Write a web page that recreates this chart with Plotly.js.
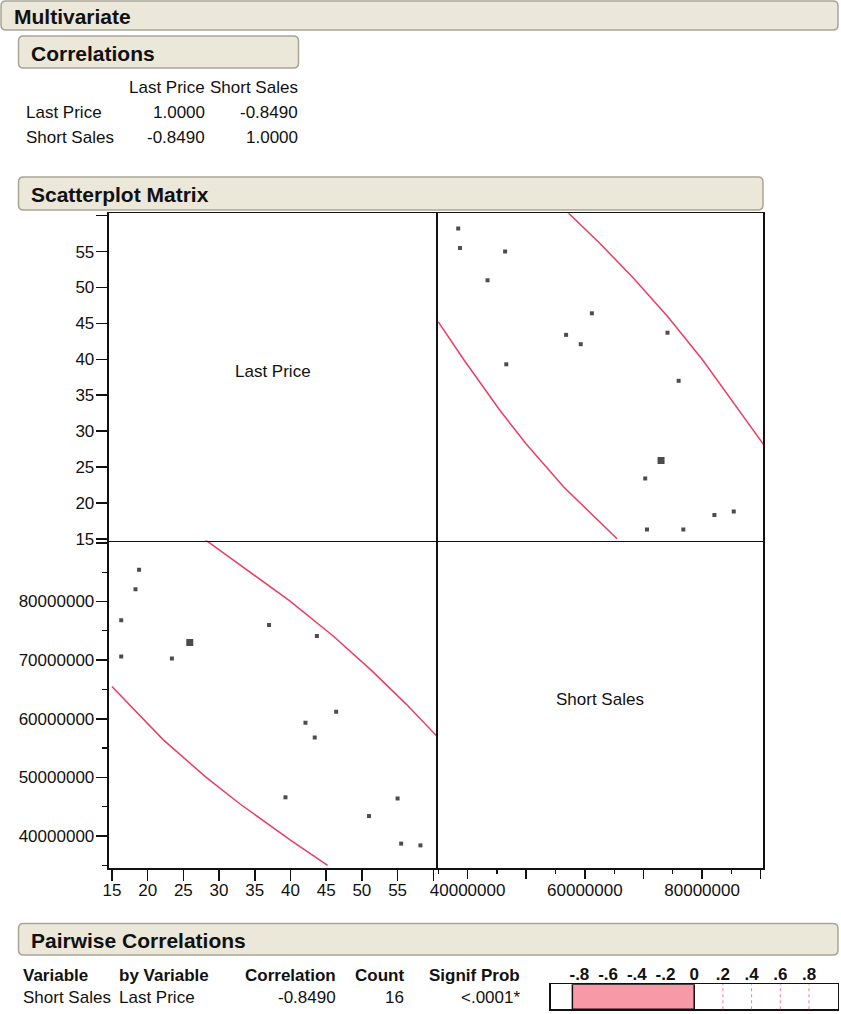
<!DOCTYPE html>
<html>
<head>
<meta charset="utf-8">
<script src="https://cdn.plot.ly/plotly-3.0.1.min.js"></script>
<style>
  html, body { margin: 0; padding: 0; background: #ffffff; }
  #chart { width: 841px; height: 1014px; }
</style>
</head>
<body>
<div id="chart"></div>
<script>
// ---------------- DATA ----------------
const variables = ['Last Price', 'Short Sales'];
const corrLastPrice = [1.0000, -0.8490];
const corrShortSales = [-0.8490, 1.0000];

const lastPrice = [18.8, 18.3, 16.3, 16.3, 23.4, 25.9, 37.0, 43.7, 46.4, 42.1, 43.4, 39.3, 51.0, 55.0, 55.5, 58.2];
const shortSales = [85400000, 82100000, 76800000, 70600000, 70300000, 73000000, 76000000, 74100000,
                    61200000, 59300000, 56800000, 46600000, 43400000, 46400000, 38700000, 38400000];
const highlightedRow = 5;

// 95% density ellipse, visible parts (Last Price, Short Sales)
const ellipseUpperLP = [28.0, 39.9, 45.9, 51.3, 56.2, 60.0, 60.6];
const ellipseUpperSS = [90600000, 80100000, 74200000, 68300000, 62500000, 57600000, 56900000];
const ellipseLowerLP = [15.0, 17.8, 22.2, 28.2, 32.9, 40.0, 45.2];
const ellipseLowerSS = [65500000, 61900000, 56400000, 50000000, 45500000, 39300000, 35000000];

const lpTickVals = [15, 20, 25, 30, 35, 40, 45, 50, 55, 60];
const lpTickText = ['15', '20', '25', '30', '35', '40', '45', '50', '55', ''];
const ssTickVals = [40000000, 50000000, 60000000, 70000000, 80000000, 90000000];
const ssYTickText = ['40000000', '50000000', '60000000', '70000000', '80000000', ''];
const ssXTickText = ['40000000', '', '60000000', '', '80000000', ''];
const ssMinorVals = [35000000, 45000000, 55000000, 65000000, 75000000, 85000000];

const pairVariable = ['Short Sales'];
const pairByVariable = ['Last Price'];
const pairCorrelation = [-0.8490];
const pairCount = [16];
const pairSignifProb = ['<.0001*'];
const barTickVals = [-0.8, -0.6, -0.4, -0.2, 0, 0.2, 0.4, 0.6, 0.8];
const barTickText = ['-.8', '-.6', '-.4', '-.2', '0', '.2', '.4', '.6', '.8'];
const barGridVals = [0.2, 0.4, 0.6, 0.8];

// ---------------- LAYOUT HELPERS ----------------
const W = 841, H = 1014;
const X = px => px / W;
const Y = py => 1 - py / H;
const FONT = 'Liberation Sans, Arial, Helvetica, sans-serif';
const RED = '#EE3D60';

function roundRect(x0, y0, x1, y1, r) {
  const rx = r / W, ry = r / H;
  const a = X(x0), b = X(x1), t = Y(y0), u = Y(y1);
  return `M ${a + rx},${t} L ${b - rx},${t} Q ${b},${t} ${b},${t - ry} L ${b},${u + ry} Q ${b},${u} ${b - rx},${u} ` +
         `L ${a + rx},${u} Q ${a},${u} ${a},${u + ry} L ${a},${t - ry} Q ${a},${t} ${a + rx},${t} Z`;
}

const shapes = [];
const annotations = [];

function header(x0, y0, x1, y1, label) {
  shapes.push({type: 'path', xref: 'paper', yref: 'paper', path: roundRect(x0, y0, x1, y1, 5),
               fillcolor: '#EBE7D9', line: {color: '#A9A596', width: 1.5}, layer: 'below'});
  annotations.push({xref: 'paper', yref: 'paper', x: X(x0 + 10.5), y: Y((y0 + y1) / 2 + 1),
                    xanchor: 'left', yanchor: 'middle', showarrow: false, text: label,
                    font: {family: FONT, size: 21, color: '#111', weight: 700}});
}
function txt(x, y, s, anchor, bold) {
  annotations.push({xref: 'paper', yref: 'paper', x: X(x), y: Y(y), xanchor: anchor || 'left',
                    yanchor: 'middle', showarrow: false, text: s,
                    font: {family: FONT, size: 17, color: '#111', weight: bold ? 700 : 400}});
}

header(1, 1, 838, 30, 'Multivariate');
header(18.5, 36, 298.5, 68, 'Correlations');
header(18.5, 177, 763, 210, 'Scatterplot Matrix');
header(18.5, 923.5, 838, 955, 'Pairwise Correlations');

// correlations table
txt(206.5, 87, variables[0], 'right');
txt(299.5, 87, variables[1], 'right');
[corrLastPrice, corrShortSales].forEach((row, i) => {
  const yy = 112.5 + i * 25;
  txt(23.5, yy, variables[i], 'left');
  txt(206.5, yy, row[0].toFixed(4), 'right');
  txt(299.5, yy, row[1].toFixed(4), 'right');
});

// diagonal labels
txt(272.5, 371.5, variables[0], 'center');
txt(600, 699.5, variables[1], 'center');

// pairwise table
txt(20.5, 975.5, 'Variable', 'left', true);
txt(116.5, 975.5, 'by Variable', 'left', true);
txt(338, 975.5, 'Correlation', 'right', true);
txt(406, 975.5, 'Count', 'right', true);
txt(522, 975.5, 'Signif Prob', 'right', true);
pairVariable.forEach((v, i) => {
  const yy = 997.5 + i * 24;
  txt(20.5, yy, v, 'left');
  txt(117, yy, pairByVariable[i], 'left');
  txt(338, yy, pairCorrelation[i].toFixed(4), 'right');
  txt(406, yy, String(pairCount[i]), 'right');
  txt(522, yy, pairSignifProb[i], 'right');
});

barGridVals.forEach(v => {
  shapes.push({type: 'line', xref: 'x5', yref: 'y5 domain', x0: v, x1: v, y0: 0, y1: 1,
               line: {color: '#F27A92', width: 1, dash: 'dot'}});
});

// ---------------- TRACES ----------------
const sizes = lastPrice.map((_, i) => i === highlightedRow ? 7 : 4);
const dotMarker = {color: '#000', size: sizes, symbol: 'square', line: {width: 0}};
const ellLine = {color: RED, width: 1.5};

const traces = [
  // bottom-left: x = Last Price, y = Short Sales
  {type: 'scatter', mode: 'lines', x: ellipseUpperLP, y: ellipseUpperSS, xaxis: 'x', yaxis: 'y', line: ellLine, hoverinfo: 'skip'},
  {type: 'scatter', mode: 'lines', x: ellipseLowerLP, y: ellipseLowerSS, xaxis: 'x', yaxis: 'y', line: ellLine, hoverinfo: 'skip'},
  {type: 'scatter', mode: 'markers', x: lastPrice, y: shortSales, xaxis: 'x', yaxis: 'y', marker: dotMarker, cliponaxis: true},
  // top-left: diagonal cell (label only)
  {type: 'scatter', mode: 'markers', x: [], y: [], xaxis: 'x2', yaxis: 'y2', hoverinfo: 'skip'},
  // top-right: x = Short Sales, y = Last Price
  {type: 'scatter', mode: 'lines', x: ellipseUpperSS, y: ellipseUpperLP, xaxis: 'x3', yaxis: 'y3', line: ellLine, hoverinfo: 'skip'},
  {type: 'scatter', mode: 'lines', x: ellipseLowerSS, y: ellipseLowerLP, xaxis: 'x3', yaxis: 'y3', line: ellLine, hoverinfo: 'skip'},
  {type: 'scatter', mode: 'markers', x: shortSales, y: lastPrice, xaxis: 'x3', yaxis: 'y3', marker: dotMarker, cliponaxis: true},
  // bottom-right: diagonal cell (label only)
  {type: 'scatter', mode: 'markers', x: [], y: [], xaxis: 'x4', yaxis: 'y4', hoverinfo: 'skip'},
  // pairwise correlation bar
  {type: 'bar', orientation: 'h', x: pairCorrelation, y: [0], base: 0, width: 1, xaxis: 'x5', yaxis: 'y5',
   marker: {color: '#F799A6', line: {color: '#111', width: 1.5}}, hoverinfo: 'skip'}
];

// ---------------- AXES ----------------
const xL = [108.5, 436], xR = [436, 763];
const yT = [213.3, 540.5], yB = [540.5, 868];
const dX = r => [X(r[0]), X(r[1])];
const dY = r => [Y(r[1]), Y(r[0])];
const lpXRange = [14.52, 60.38], lpYRange = [14.76, 60.33];
const ssXRange = [34.61e6, 90.39e6], ssYRange = [34.54e6, 90.41e6];

const base = {showgrid: false, zeroline: false, showline: true, mirror: true, linecolor: '#111', linewidth: 1.8,
              tickfont: {family: FONT, size: 17, color: '#111'}, fixedrange: true};
const noTicks = Object.assign({}, base, {showticklabels: false, ticks: ''});

const layout = {
  width: W, height: H, margin: {l: 0, r: 0, t: 0, b: 0}, paper_bgcolor: '#fff', plot_bgcolor: '#fff',
  showlegend: false, font: {family: FONT, size: 17, color: '#111'},
  // bottom-left (bottom + left/right frame lines)
  xaxis: Object.assign({}, base, {domain: dX(xL), anchor: 'y', range: lpXRange, mirror: false, tickmode: 'array',
         tickvals: lpTickVals, ticktext: lpTickText, ticks: 'outside', ticklen: 11, tickwidth: 1.5, tickcolor: '#111',
         ticklabelstandoff: -5}),
  yaxis: Object.assign({}, base, {domain: dY(yB), anchor: 'x', range: ssYRange, tickmode: 'array',
         tickvals: ssTickVals, ticktext: ssYTickText, ticks: 'outside', ticklen: 11, tickwidth: 1.5, tickcolor: '#111',
         ticklabelstandoff: -2,
         minor: {tickmode: 'array', tickvals: ssMinorVals, ticks: 'outside', ticklen: 5, tickwidth: 1.2, tickcolor: '#111', showgrid: false}}),
  // top-left (full frame)
  xaxis2: Object.assign({}, noTicks, {domain: dX(xL), anchor: 'y2', range: lpXRange}),
  yaxis2: Object.assign({}, base, {domain: dY(yT), anchor: 'x2', range: lpYRange, tickmode: 'array',
         tickvals: lpTickVals, ticktext: lpTickText, ticks: 'outside', ticklen: 11, tickwidth: 1.5, tickcolor: '#111',
         ticklabelstandoff: -2}),
  // top-right (top + bottom + right lines)
  xaxis3: Object.assign({}, noTicks, {domain: dX(xR), anchor: 'y3', range: ssXRange}),
  yaxis3: Object.assign({}, noTicks, {domain: dY(yT), anchor: 'x3', range: lpYRange, side: 'right', mirror: false}),
  // bottom-right (bottom + right lines)
  xaxis4: Object.assign({}, base, {domain: dX(xR), anchor: 'y4', range: ssXRange, mirror: false, tickmode: 'array',
         tickvals: ssTickVals, ticktext: ssXTickText, ticks: 'outside', ticklen: 9, tickwidth: 1.5, tickcolor: '#111',
         ticklabelstandoff: -3,
         minor: {tickmode: 'array', tickvals: ssMinorVals, ticks: 'outside', ticklen: 4, tickwidth: 1.2, tickcolor: '#111', showgrid: false}}),
  yaxis4: Object.assign({}, noTicks, {domain: dY(yB), anchor: 'x4', range: [0, 1], side: 'right', mirror: false}),
  // pairwise bar
  xaxis5: Object.assign({}, base, {domain: [X(550.7), X(837.7)], anchor: 'y5', range: [-1, 1], side: 'top',
         tickmode: 'array', tickvals: barTickVals, ticktext: barTickText, ticks: '', ticklabelstandoff: -4,
         tickfont: {family: FONT, size: 17, color: '#111', weight: 700}, linewidth: 1.5}),
  yaxis5: Object.assign({}, noTicks, {domain: [Y(1009.3), Y(984.3)], anchor: 'x5', range: [-0.5, 0.5], linewidth: 1.5}),
  shapes: shapes,
  annotations: annotations
};

Plotly.newPlot('chart', traces, layout, {displayModeBar: false, staticPlot: true});
</script>
</body>
</html>
